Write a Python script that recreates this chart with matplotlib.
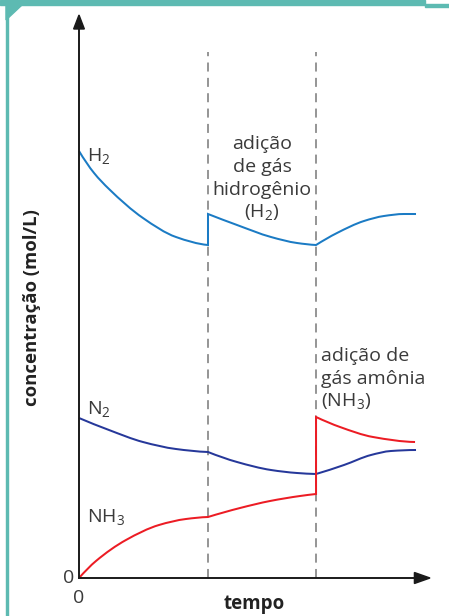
import matplotlib
matplotlib.use("Agg")
import matplotlib.pyplot as plt
from matplotlib.path import Path
from matplotlib.patches import PathPatch, Polygon, Rectangle
import numpy as np

plt.rcParams['font.family'] = ['Open Sans', 'DejaVu Sans']
plt.rcParams['mathtext.fontset'] = 'custom'
plt.rcParams['mathtext.rm'] = 'Open Sans'

# time axis (arbitrary units) and disturbance instants
t_h2_added = 12.0
t_nh3_added = 22.05

# H2 concentration, three stages
h2_t1 = [0.0, 1.40, 2.79, 5.95, 9.02, 12.0]
h2_c1 = [4.27, 4.05, 3.89, 3.60, 3.41, 3.33]
h2_t2 = [12.0, 14.7, 17.86, 20.28, 22.05]
h2_c2 = [3.64, 3.53, 3.41, 3.35, 3.33]
h2_t3 = [22.05, 24.0, 26.51, 28.37, 30.23, 31.35]
h2_c3 = [3.33, 3.45, 3.57, 3.62, 3.64, 3.64]

# N2 concentration, three stages
n2_t1 = [0.0, 2.79, 5.95, 9.02, 12.0]
n2_c1 = [1.60, 1.48, 1.36, 1.29, 1.26]
n2_t2 = [12.0, 14.7, 17.86, 20.28, 22.05]
n2_c2 = [1.26, 1.16, 1.08, 1.05, 1.04]
n2_t3 = [22.05, 24.65, 27.16, 29.02, 31.35]
n2_c3 = [1.04, 1.13, 1.23, 1.27, 1.28]

# NH3 concentration, three stages
nh3_t1 = [0.0, 1.58, 4.37, 7.44, 9.95, 12.0]
nh3_c1 = [0.0, 0.17, 0.38, 0.53, 0.59, 0.61]
nh3_t2 = [12.0, 14.98, 17.77, 20.56, 22.05]
nh3_c2 = [0.61, 0.70, 0.77, 0.82, 0.84]
nh3_t3 = [22.05, 24.28, 27.35, 31.26]
nh3_c3 = [1.61, 1.51, 1.41, 1.36]

C_H2 = '#1b7bc4'
C_N2 = '#26389a'
C_NH3 = '#ec1c24'
C_TXT = '#3a3a3a'
C_FRAME = '#5dbab2'

W, H = 449, 616
fig = plt.figure(figsize=(W / 100, H / 100), dpi=100)

x0, y0, x1, y1 = 79, 578, 430, 15
ax = fig.add_axes([x0 / W, (H - y0) / H, (x1 - x0) / W, (y0 - y1) / H])
ax.set_xlim(0, (x1 - x0) / 10.75)
ax.set_ylim(0, (y0 - y1) / 100)
ax.axis('off')


def pchip_slopes(x, y):
    """Shape-preserving (Fritsch-Carlson) tangents at each point."""
    h = np.diff(x)
    d = np.diff(y) / h
    n = len(x)
    m = np.zeros(n)
    for k in range(1, n - 1):
        if d[k - 1] * d[k] > 0:
            w1 = 2 * h[k] + h[k - 1]
            w2 = h[k] + 2 * h[k - 1]
            m[k] = (w1 + w2) / (w1 / d[k - 1] + w2 / d[k])

    def end(h0, h1, d0, d1):
        s = ((2 * h0 + h1) * d0 - h0 * d1) / (h0 + h1)
        if np.sign(s) != np.sign(d0):
            s = 0.0
        elif np.sign(d0) != np.sign(d1) and abs(s) > abs(3 * d0):
            s = 3 * d0
        return s

    if n > 2:
        m[0] = end(h[0], h[1], d[0], d[1])
        m[-1] = end(h[-1], h[-2], d[-1], d[-2])
    else:
        m[:] = d[0]
    return m


def smooth_path(ts, cs):
    x = np.asarray(ts, float)
    y = np.asarray(cs, float)
    m = pchip_slopes(x, y)
    verts = [(x[0], y[0])]
    codes = [Path.MOVETO]
    for i in range(len(x) - 1):
        hh = (x[i + 1] - x[i]) / 3.0
        verts += [(x[i] + hh, y[i] + hh * m[i]),
                  (x[i + 1] - hh, y[i + 1] - hh * m[i + 1]),
                  (x[i + 1], y[i + 1])]
        codes += [Path.CURVE4] * 3
    return verts, codes


def draw_series(stages, color):
    verts, codes = [], []
    for ts, cs in stages:
        v, c = smooth_path(ts, cs)
        if verts:
            c[0] = Path.LINETO
        verts += list(v)
        codes += c
    ax.add_patch(PathPatch(Path(verts, codes), fill=False, edgecolor=color,
                           lw=1.45, capstyle='butt', joinstyle='miter',
                           clip_on=False, zorder=3))


draw_series([(h2_t1, h2_c1), (h2_t2, h2_c2), (h2_t3, h2_c3)], C_H2)
draw_series([(n2_t1, n2_c1), (n2_t2, n2_c2), (n2_t3, n2_c3)], C_N2)
draw_series([(nh3_t1, nh3_c1), (nh3_t2, nh3_c2), (nh3_t3, nh3_c3)], C_NH3)

# dashed markers for the additions
for tx in (t_h2_added, t_nh3_added):
    ax.plot([tx, tx], [0, 5.26], color='#8c8c8c', lw=1.3,
            dashes=(5, 3.5), zorder=2, clip_on=False)

# axes with arrowheads
xmax, ymax = ax.get_xlim()[1], ax.get_ylim()[1]
ax.plot([0, xmax - 1.0], [0, 0], color='#1a1a1a', lw=1.4, clip_on=False, zorder=4)
ax.plot([0, 0], [0, ymax - 0.12], color='#1a1a1a', lw=1.4, clip_on=False, zorder=4)
ax.add_patch(Polygon([[xmax, 0], [xmax - 1.45, 0.055], [xmax - 1.45, -0.055]],
                     closed=True, color='#1a1a1a', clip_on=False, zorder=4))
ax.add_patch(Polygon([[0, ymax], [-0.5, ymax - 0.14], [0.5, ymax - 0.14]],
                     closed=True, color='#1a1a1a', clip_on=False, zorder=4))

fs = 14
ax.text(-0.45, 0.0, '0', ha='right', va='center', fontsize=fs, color=C_TXT)
ax.text(0.0, -0.11, '0', ha='center', va='top', fontsize=fs, color=C_TXT)
ax.text(16.3, -0.16, 'tempo', ha='center', va='top', fontsize=13.5,
        fontweight='bold', color='#222222')
fig.text(32 / W, 1 - 308 / H, 'concentração (mol/L)', rotation=90,
         ha='center', va='center', fontsize=13.3, fontweight='bold',
         color='#222222')

# species labels
ax.text(0.75, 4.21, 'H$_2$', ha='left', va='center', fontsize=fs, color=C_TXT)
ax.text(0.75, 1.68, 'N$_2$', ha='left', va='center', fontsize=fs, color=C_TXT)
ax.text(0.75, 0.60, 'NH$_3$', ha='left', va='center', fontsize=fs, color=C_TXT)

# annotations of the disturbances
for i, line in enumerate(['adição', 'de gás', 'hidrogênio', '(H$_2$)']):
    ax.text(17.05, 4.34 - 0.23 * i, line, ha='center', va='center',
            fontsize=fs, color=C_TXT)
for i, line in enumerate(['adição de', 'gás amônia', '(NH$_3$)']):
    ax.text(22.55, 2.22 - 0.23 * i, line, ha='left', va='center',
            fontsize=fs, color=C_TXT)

# page frame
fig.patches.append(Rectangle((0, 1 - 5 / H), 425 / W, 5 / H, transform=fig.transFigure,
                             color=C_FRAME, zorder=0))
fig.patches.append(Rectangle((425 / W, 1 - 6.5 / H), 24 / W, 2 / H,
                             transform=fig.transFigure, color=C_FRAME, zorder=0))
fig.patches.append(Rectangle((6 / W, 0), 2.2 / W, 1 - 5 / H, transform=fig.transFigure,
                             color=C_FRAME, zorder=0))
fig.patches.append(Polygon([[6 / W, 1 - 5 / H], [22 / W, 1 - 5 / H], [6 / W, 1 - 20 / H]],
                           closed=True, transform=fig.transFigure, color=C_FRAME, zorder=0))

fig.savefig('out.png', dpi=100)
